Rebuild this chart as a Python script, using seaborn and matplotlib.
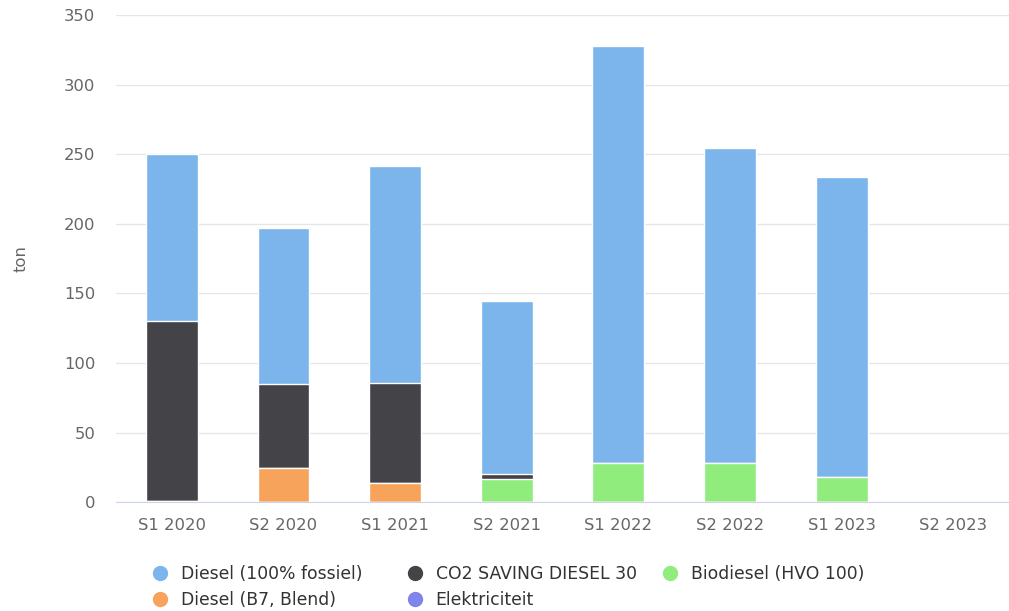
import numpy as np
import pandas as pd
import seaborn as sns
import matplotlib.pyplot as plt
from matplotlib.lines import Line2D

# Data (ton per half year)
periods = ["S1 2020", "S2 2020", "S1 2021", "S2 2021", "S1 2022", "S2 2022", "S1 2023", "S2 2023"]
elektriciteit = [0, 0, 0, 0, 0, 0, 0, 0]
diesel_b7 = [1, 24.5, 14, 0, 0, 0, 0, 0]
biodiesel_hvo = [0, 0, 0, 16.5, 28, 28, 18, 0]
co2_saving = [129, 60.5, 72, 3.5, 0, 0, 0, 0]
diesel_fossiel = [120, 112, 155.5, 124.5, 300, 226.5, 215.6, 0]

names = ["Diesel (100% fossiel)", "CO2 SAVING DIESEL 30", "Biodiesel (HVO 100)",
         "Diesel (B7, Blend)", "Elektriciteit"]
colors = ["#7cb5ec", "#434348", "#90ed7d", "#f7a35c", "#8085e9"]
values = [diesel_fossiel, co2_saving, biodiesel_hvo, diesel_b7, elektriciteit]

sns.set_style("white")
plt.rcParams['font.family'] = ['DejaVu Sans']

fig = plt.figure(figsize=(10.09, 6.11), dpi=100)
ax = fig.add_axes([0.115, 0.178, 0.885, 0.7975])

# stacked: draw cumulative totals from the top series downwards
cum = np.zeros(len(periods))
layers = []
for name, col, vals in zip(reversed(names), reversed(colors), reversed(values)):
    cum = cum + np.array(vals)
    layers.append((name, col, cum.copy()))
for name, col, tops in reversed(layers):
    df = pd.DataFrame({"period": periods, "value": tops})
    sns.barplot(data=df, x="period", y="value", color=col, width=0.465,
                edgecolor="white", linewidth=1, saturation=1, ax=ax)

ax.set_ylim(0, 350)
ax.set_xlim(-0.5, len(periods) - 0.5)
ax.set_yticks(range(0, 351, 50))
ax.yaxis.grid(True, color="#e6e6e6", linewidth=1)
ax.set_axisbelow(True)
for s in ["top", "right", "left"]:
    ax.spines[s].set_visible(False)
ax.spines["bottom"].set_color("#ccd6eb")
ax.tick_params(axis="both", length=0, colors="#666666", labelsize=11.8)
ax.tick_params(axis="x", pad=11)
ax.tick_params(axis="y", pad=15)
ax.set_xlabel("")
ax.set_ylabel("ton", color="#666666", fontsize=11.8, labelpad=25)

# legend: three columns placed like the original
fs = 12.4
handles = [Line2D([], [], marker="o", linestyle="", markersize=10,
                  markerfacecolor=c, markeredgecolor=c) for c in colors]
columns = [([0, 3], 160), ([1, 4], 415), ([2], 670)]
for idx, xc in columns:
    x0 = (xc - 0.5 * fs * 100 / 72) / 1009
    fig.legend([handles[i] for i in idx], [names[i] for i in idx],
               loc="upper left", bbox_to_anchor=(x0, 1 - 565 / 611),
               frameon=False, fontsize=fs, labelcolor="#333333",
               handletextpad=0.7, labelspacing=0.45, handlelength=1.0,
               borderpad=0, borderaxespad=0)

fig.savefig("out.png", dpi=100)
